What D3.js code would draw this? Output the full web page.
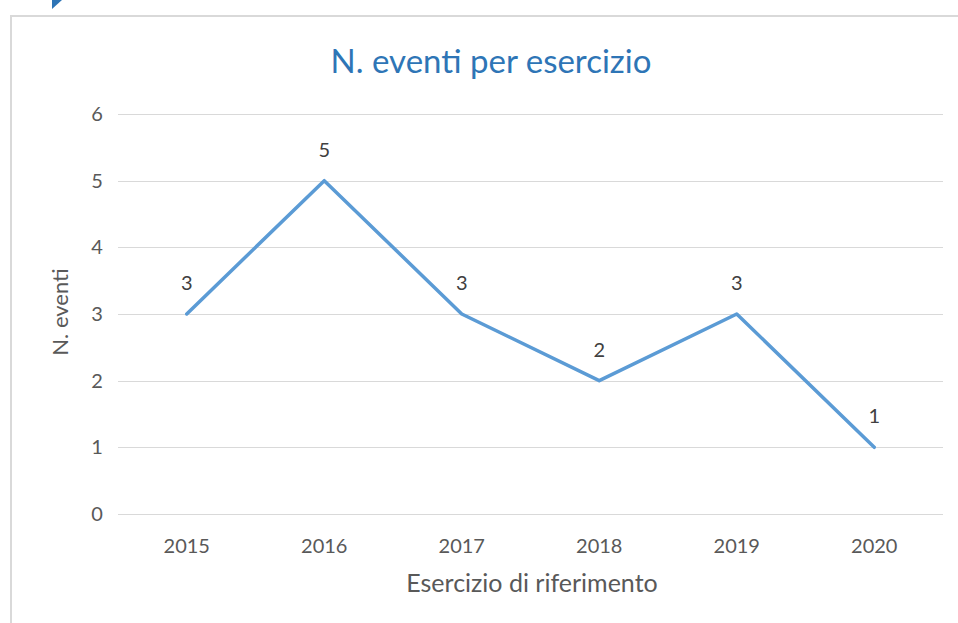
<!DOCTYPE html>
<meta charset="utf-8">
<style>
body { margin: 0; background: #fff; }
svg { display: block; font-family: Lato, "Open Sans", sans-serif; }
.grid line { stroke: #d9d9d9; stroke-width: 1px; shape-rendering: crispEdges; }
.tick-lbl { fill: #595959; font-size: 20px; }
.data-lbl { fill: #404040; font-size: 20px; text-anchor: middle; }
.ax-title { fill: #595959; text-anchor: middle; }
</style>
<body>
<div id="chart"></div>
<script src="https://cdn.jsdelivr.net/npm/d3@7"></script>
<script>
var years = ["2015", "2016", "2017", "2018", "2019", "2020"];
var eventi = [3, 5, 3, 2, 3, 1];
var yTicks = [0, 1, 2, 3, 4, 5, 6];

var W = 958, H = 623;
var margin = {top: 114, right: 15, bottom: 109, left: 118};

var svg = d3.select("#chart").append("svg")
    .attr("width", W)
    .attr("height", H);

// frame of the chart area
svg.append("path")
    .attr("d", "M11,623V16H958")
    .attr("fill", "none")
    .attr("stroke", "#d9d9d9")
    .attr("stroke-width", 2);

// little blue corner marker
svg.append("polygon")
    .attr("points", "52,0 62,0 52,9")
    .attr("fill", "#2e75b6");

var x = d3.scaleBand().domain(years).range([margin.left, W - margin.right]);
var y = d3.scaleLinear().domain([0, 6]).range([H - margin.bottom, margin.top]);

var grid = svg.append("g").attr("class", "grid");
grid.selectAll("line")
    .data(yTicks)
  .enter().append("line")
    .attr("x1", margin.left)
    .attr("x2", W - margin.right)
    .attr("y1", function(d) { return Math.round(y(d)) + 0.5; })
    .attr("y2", function(d) { return Math.round(y(d)) + 0.5; });

svg.selectAll(".ylbl")
    .data(yTicks)
  .enter().append("text")
    .attr("class", "tick-lbl ylbl")
    .attr("x", 97)
    .attr("y", function(d) { return y(d); })
    .attr("dy", "0.35em")
    .attr("text-anchor", "middle")
    .text(function(d) { return d; });

svg.selectAll(".xlbl")
    .data(years)
  .enter().append("text")
    .attr("class", "tick-lbl xlbl")
    .attr("x", function(d) { return x(d) + x.bandwidth() / 2; })
    .attr("y", 553)
    .attr("text-anchor", "middle")
    .text(function(d) { return d; });

var line = d3.line()
    .x(function(d, i) { return x(years[i]) + x.bandwidth() / 2; })
    .y(function(d) { return y(d); });

svg.append("path")
    .datum(eventi)
    .attr("d", line)
    .attr("fill", "none")
    .attr("stroke", "#5b9bd5")
    .attr("stroke-width", 3.5)
    .attr("stroke-linejoin", "round")
    .attr("stroke-linecap", "round");

svg.selectAll(".data-lbl")
    .data(eventi)
  .enter().append("text")
    .attr("class", "data-lbl")
    .attr("x", function(d, i) { return x(years[i]) + x.bandwidth() / 2; })
    .attr("y", function(d) { return y(d) - 24; })
    .text(function(d) { return d; });

svg.append("text")
    .attr("x", 491)
    .attr("y", 73)
    .attr("text-anchor", "middle")
    .attr("fill", "#2e75b6")
    .style("font-size", "33px")
    .text("N. eventi per esercizio");

svg.append("text")
    .attr("class", "ax-title")
    .attr("transform", "translate(68,312) rotate(-90)")
    .attr("fill", "#404040")
    .style("font-size", "22px")
    .text("N. eventi");

svg.append("text")
    .attr("class", "ax-title")
    .attr("x", 532)
    .attr("y", 592)
    .style("font-size", "25px")
    .text("Esercizio di riferimento");
</script>
</body>
